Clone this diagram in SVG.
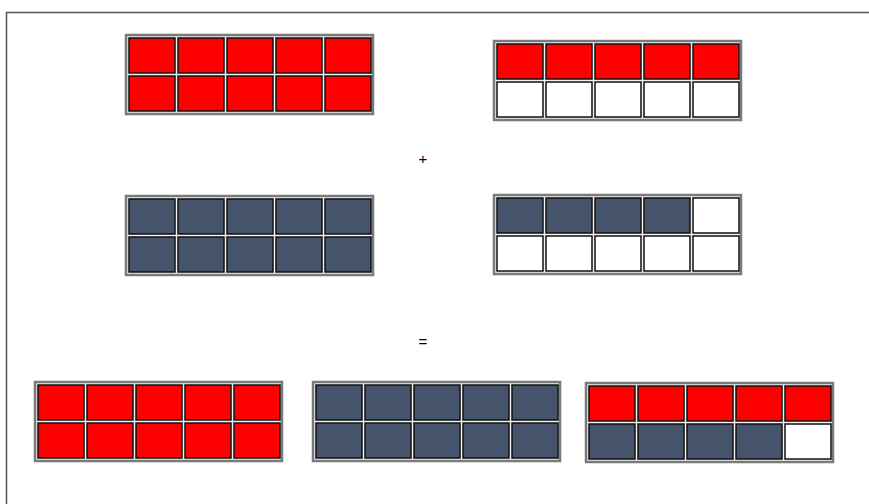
<svg xmlns="http://www.w3.org/2000/svg" width="869" height="504" viewBox="0 0 869 504">
<style>
.frame{fill:none;stroke:#555;stroke-width:1.5}
.box{fill:#f2f2f2;stroke:#7a7a7a;stroke-width:2.5}
.r{fill:#ff0000;stroke:#111;stroke-width:1.5}
.b{fill:#46546b;stroke:#111;stroke-width:1.5}
.w{fill:#ffffff;stroke:#111;stroke-width:1.5}
.t{font-family:"Liberation Sans",Arial,sans-serif;font-size:15px;fill:#000;text-anchor:middle}
</style>
<rect width="869" height="504" fill="#fff"/>
<rect class="frame" x="6.5" y="12.5" width="880" height="510"/>
<g id="grid1" transform="translate(126,35)">
<rect class="box" x="0" y="0" width="247" height="79"/>
<rect class="r" x="3" y="3" width="46" height="35"/><rect class="r" x="52" y="3" width="46" height="35"/><rect class="r" x="101" y="3" width="46" height="35"/><rect class="r" x="150" y="3" width="46" height="35"/><rect class="r" x="199" y="3" width="46" height="35"/>
<rect class="r" x="3" y="41" width="46" height="35"/><rect class="r" x="52" y="41" width="46" height="35"/><rect class="r" x="101" y="41" width="46" height="35"/><rect class="r" x="150" y="41" width="46" height="35"/><rect class="r" x="199" y="41" width="46" height="35"/>
</g>
<g id="grid2" transform="translate(494,41)">
<rect class="box" x="0" y="0" width="247" height="79"/>
<rect class="r" x="3" y="3" width="46" height="35"/><rect class="r" x="52" y="3" width="46" height="35"/><rect class="r" x="101" y="3" width="46" height="35"/><rect class="r" x="150" y="3" width="46" height="35"/><rect class="r" x="199" y="3" width="46" height="35"/>
<rect class="w" x="3" y="41" width="46" height="35"/><rect class="w" x="52" y="41" width="46" height="35"/><rect class="w" x="101" y="41" width="46" height="35"/><rect class="w" x="150" y="41" width="46" height="35"/><rect class="w" x="199" y="41" width="46" height="35"/>
</g>
<text id="plus" class="t" x="423" y="164">+</text>
<g id="grid3" transform="translate(126,196)">
<rect class="box" x="0" y="0" width="247" height="79"/>
<rect class="b" x="3" y="3" width="46" height="35"/><rect class="b" x="52" y="3" width="46" height="35"/><rect class="b" x="101" y="3" width="46" height="35"/><rect class="b" x="150" y="3" width="46" height="35"/><rect class="b" x="199" y="3" width="46" height="35"/>
<rect class="b" x="3" y="41" width="46" height="35"/><rect class="b" x="52" y="41" width="46" height="35"/><rect class="b" x="101" y="41" width="46" height="35"/><rect class="b" x="150" y="41" width="46" height="35"/><rect class="b" x="199" y="41" width="46" height="35"/>
</g>
<g id="grid4" transform="translate(494,195)">
<rect class="box" x="0" y="0" width="247" height="79"/>
<rect class="b" x="3" y="3" width="46" height="35"/><rect class="b" x="52" y="3" width="46" height="35"/><rect class="b" x="101" y="3" width="46" height="35"/><rect class="b" x="150" y="3" width="46" height="35"/><rect class="w" x="199" y="3" width="46" height="35"/>
<rect class="w" x="3" y="41" width="46" height="35"/><rect class="w" x="52" y="41" width="46" height="35"/><rect class="w" x="101" y="41" width="46" height="35"/><rect class="w" x="150" y="41" width="46" height="35"/><rect class="w" x="199" y="41" width="46" height="35"/>
</g>
<text id="equals" class="t" x="423" y="347">=</text>
<g id="grid5" transform="translate(35,382)">
<rect class="box" x="0" y="0" width="247" height="79"/>
<rect class="r" x="3" y="3" width="46" height="35"/><rect class="r" x="52" y="3" width="46" height="35"/><rect class="r" x="101" y="3" width="46" height="35"/><rect class="r" x="150" y="3" width="46" height="35"/><rect class="r" x="199" y="3" width="46" height="35"/>
<rect class="r" x="3" y="41" width="46" height="35"/><rect class="r" x="52" y="41" width="46" height="35"/><rect class="r" x="101" y="41" width="46" height="35"/><rect class="r" x="150" y="41" width="46" height="35"/><rect class="r" x="199" y="41" width="46" height="35"/>
</g>
<g id="grid6" transform="translate(313,382)">
<rect class="box" x="0" y="0" width="247" height="79"/>
<rect class="b" x="3" y="3" width="46" height="35"/><rect class="b" x="52" y="3" width="46" height="35"/><rect class="b" x="101" y="3" width="46" height="35"/><rect class="b" x="150" y="3" width="46" height="35"/><rect class="b" x="199" y="3" width="46" height="35"/>
<rect class="b" x="3" y="41" width="46" height="35"/><rect class="b" x="52" y="41" width="46" height="35"/><rect class="b" x="101" y="41" width="46" height="35"/><rect class="b" x="150" y="41" width="46" height="35"/><rect class="b" x="199" y="41" width="46" height="35"/>
</g>
<g id="grid7" transform="translate(586,383)">
<rect class="box" x="0" y="0" width="247" height="79"/>
<rect class="r" x="3" y="3" width="46" height="35"/><rect class="r" x="52" y="3" width="46" height="35"/><rect class="r" x="101" y="3" width="46" height="35"/><rect class="r" x="150" y="3" width="46" height="35"/><rect class="r" x="199" y="3" width="46" height="35"/>
<rect class="b" x="3" y="41" width="46" height="35"/><rect class="b" x="52" y="41" width="46" height="35"/><rect class="b" x="101" y="41" width="46" height="35"/><rect class="b" x="150" y="41" width="46" height="35"/><rect class="w" x="199" y="41" width="46" height="35"/>
</g>
</svg>
